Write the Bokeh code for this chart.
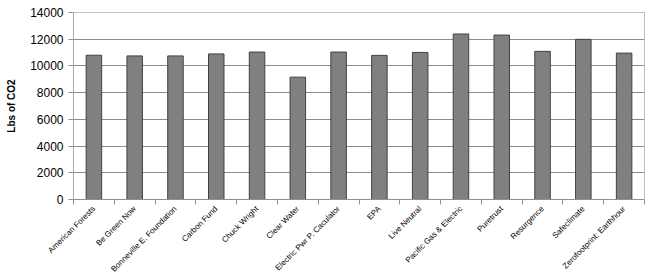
import math
from bokeh.plotting import figure
from bokeh.models import FixedTicker, ColumnDataSource, Range1d
from bokeh.embed import file_html
from bokeh.resources import INLINE

categories = ["American Forests", "Be Green Now", "Bonneville E. Foundation", "Carbon Fund",
              "Chuck Wright", "Clear Water", "Electric Pwr P. Caculator", "EPA", "Live Neutral",
              "Pacific Gas & Electric", "Puretrust", "Resurgence", "Safeclimate",
              "Zerofootprint: Earthhour"]
values = [10800, 10750, 10750, 10900, 11040, 9160, 11040, 10790, 11010, 12390, 12310, 11090, 11990, 10960]
y_ticks = [0, 2000, 4000, 6000, 8000, 10000, 12000, 14000]

n = len(categories)
xs = [i + 0.5 for i in range(n)]
src = ColumnDataSource(dict(x=xs, top=values))

p = figure(width=649, height=279, output_backend="svg", toolbar_location=None,
           x_range=Range1d(0, n), y_range=Range1d(0, 14000),
           min_border_left=73, min_border_right=5, min_border_top=12, min_border_bottom=80)

p.vbar(x="x", top="top", width=0.38, source=src, fill_color="#808080",
       line_color="#404040", line_width=1)

p.xaxis.ticker = FixedTicker(ticks=xs, minor_ticks=list(range(n + 1)))
p.xaxis.major_label_overrides = {x: c for x, c in zip(xs, categories)}
p.xaxis.major_label_orientation = math.pi / 4
p.xaxis.major_tick_out = 0
p.xaxis.major_tick_in = 0
p.xaxis.minor_tick_out = 5
p.xaxis.minor_tick_in = 0
p.xaxis.minor_tick_line_color = "#909090"
p.xaxis.axis_line_color = "#909090"
p.xaxis.major_label_text_font = "Liberation Sans"
p.xaxis.major_label_text_font_size = "8px"
p.xaxis.major_label_text_color = "#000000"
p.xaxis.major_label_standoff = 3

p.yaxis.ticker = FixedTicker(ticks=y_ticks)
p.yaxis.minor_tick_line_color = None
p.yaxis.major_tick_out = 5
p.yaxis.major_tick_in = 0
p.yaxis.major_tick_line_color = "#909090"
p.yaxis.axis_line_color = "#a8a8a8"
p.yaxis.major_label_text_font = "Liberation Sans"
p.yaxis.major_label_text_font_size = "12px"
p.yaxis.major_label_text_color = "#000000"
p.yaxis.major_label_standoff = 5
p.yaxis.axis_label = "Lbs of CO2"
p.yaxis.axis_label_text_font = "Liberation Sans"
p.yaxis.axis_label_text_font_size = "10px"
p.yaxis.axis_label_text_font_style = "bold"
p.yaxis.axis_label_text_color = "#000000"
p.yaxis.axis_label_standoff = 10

p.xgrid.visible = False
p.ygrid.ticker = FixedTicker(ticks=y_ticks)
p.ygrid.grid_line_color = "#8c8c8c"
p.outline_line_color = "#c0c0c0"
p.background_fill_color = "white"
p.border_fill_color = "white"

open("out.html", "w").write(file_html(p, INLINE))
